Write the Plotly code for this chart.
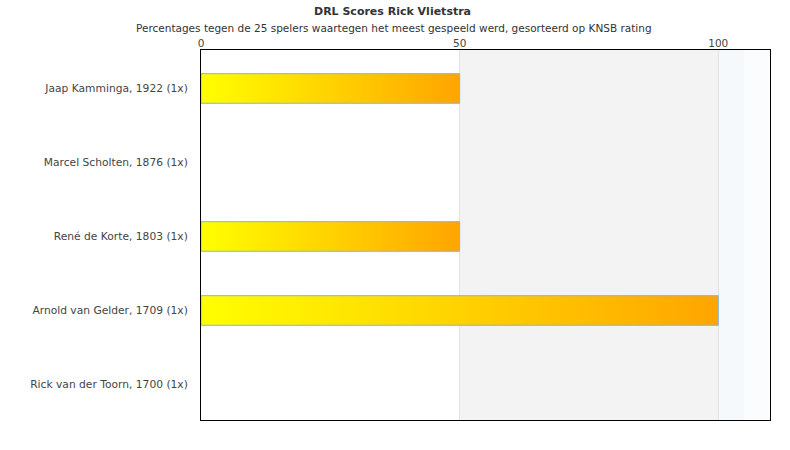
import plotly.graph_objects as go

players = [
    "Jaap Kamminga, 1922 (1x)",
    "Marcel Scholten, 1876 (1x)",
    "René de Korte, 1803 (1x)",
    "Arnold van Gelder, 1709 (1x)",
    "Rick van der Toorn, 1700 (1x)",
]
scores = [50, 0, 50, 100, 0]
x_ticks = [0, 50, 100]
title = "DRL Scores Rick Vlietstra"
subtitle = "Percentages tegen de 25 spelers waartegen het meest gespeeld werd, gesorteerd op KNSB rating"

FONT = "DejaVu Sans"
half = 0.2

W, H = 790, 450
L, R, T, B = 201, W - 770, 50, H - 420

fig = go.Figure()
for i, (name, v) in enumerate(zip(players, scores)):
    if v <= 0:
        continue
    fig.add_trace(go.Scatter(
        x=[0, v, v, 0, 0],
        y=[i - half, i - half, i + half, i + half, i - half],
        mode="lines",
        fill="toself",
        fillgradient=dict(type="horizontal",
                          colorscale=[[0, "#ffff00"], [1, "#ffa500"]]),
        line=dict(color="#7cb5ec", width=1),
        hoverinfo="text",
        text=f"{name}: {v}%",
        showlegend=False,
    ))

fig.add_shape(type="rect", xref="x", yref="paper", x0=50, x1=100, y0=0, y1=1,
              fillcolor="#f3f3f3", line_width=0, layer="below")
fig.add_shape(type="rect", xref="x", yref="paper", x0=100, x1=105, y0=0, y1=1,
              fillcolor="#f5f9fc", line_width=0, layer="below")
fig.add_shape(type="rect", xref="x", yref="paper", x0=105, x1=110, y0=0, y1=1,
              fillcolor="#fafcfe", line_width=0, layer="below")

pw = W - L - R
ph = H - T - B


def to_paper(px, py):
    return (px - L) / pw, 1 + (T - py) / ph


tx, ty = to_paper(392, 12)
sx, sy = to_paper(393.5, 28)

fig.update_layout(
    width=W, height=H,
    margin=dict(l=L, r=R, t=T, b=B),
    paper_bgcolor="white", plot_bgcolor="white",
    font=dict(family=FONT, size=10, color="#444"),
    annotations=[
        dict(text=f"<b>{title}</b>", x=tx, y=ty, xref="paper", yref="paper",
             xanchor="center", yanchor="middle",
             showarrow=False, font=dict(size=11, color="#333")),
        dict(text=subtitle, x=sx, y=sy, xref="paper", yref="paper",
             xanchor="center", yanchor="middle",
             showarrow=False, font=dict(size=10.5, color="#333")),
    ],
    xaxis=dict(range=[0, 110], side="top", tickvals=x_ticks,
               ticktext=[str(t) for t in x_ticks],
               showgrid=True, gridcolor="#e3e3e3", gridwidth=1,
               zeroline=False, showline=True, linecolor="black", linewidth=1,
               mirror=True, ticks="", ticklabelstandoff=-2,
               tickfont=dict(size=10.5, color="#444")),
    yaxis=dict(range=[4.48, -0.52], tickvals=list(range(len(players))),
               ticktext=players, showgrid=False, zeroline=False,
               showline=True, linecolor="black", linewidth=1, mirror=True,
               ticks="", ticklabelstandoff=10,
               tickfont=dict(size=10.7, color="#444")),
)

fig.write_html("out.html",
               config={"displayModeBar": False},
               post_script="document.body.style.margin='0';")
